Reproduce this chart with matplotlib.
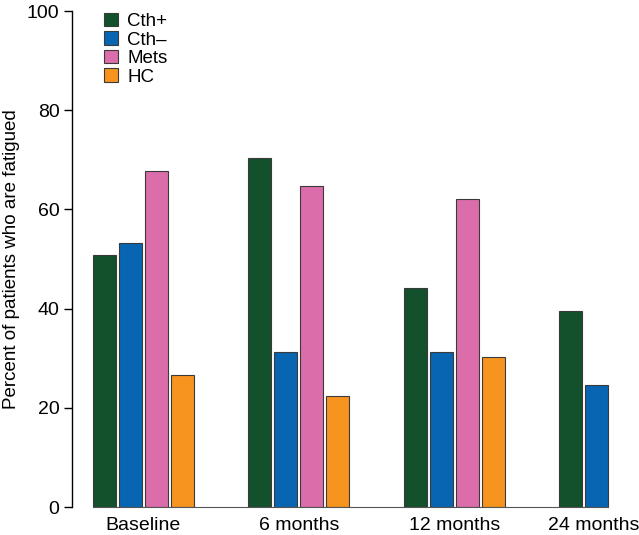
import matplotlib.pyplot as plt
import numpy as np

plt.rcParams['font.family'] = ['Liberation Sans', 'DejaVu Sans']

groups = ['Baseline', '6 months', '12 months', '24 months']
series = ['Cth+', 'Cth\u2013', 'Mets', 'HC']
cth_pos = [50.8, 70.4, 44.2, 39.5]
cth_neg = [53.3, 31.3, 31.3, 24.6]
mets = [67.7, 64.7, 62.1, np.nan]
hc = [26.6, 22.4, 30.2, np.nan]
colors = ['#12512b', '#0865b2', '#dc6dab', '#f7941f']

fig = plt.figure(figsize=(6.39, 5.35), dpi=100)
ax = fig.add_axes([0.1127, 0.0523, 0.8873, 0.9271])

x = np.arange(len(groups))
step = 0.167
w = 0.148
for j, (vals, lab, c) in enumerate(zip([cth_pos, cth_neg, mets, hc], series, colors)):
    ax.bar(x + (j - 1.5) * step, vals, width=w, color=c, edgecolor='#3a3a3a',
           linewidth=0.8, label=lab)

ax.set_xlim(-0.46, 3.19)
ax.set_ylim(0, 100)
ax.set_yticks([0, 20, 40, 60, 80, 100])
ax.set_xticks([0, 1, 2, 2.9])
ax.set_xticklabels(groups)
ax.tick_params(axis='x', length=0, labelsize=14, pad=7)
ax.tick_params(axis='y', length=6, width=1, labelsize=14, direction='out', pad=3)
ax.set_ylabel('Percent of patients who are fatigued', fontsize=13.5, labelpad=5)

for s in ['top', 'right']:
    ax.spines[s].set_visible(False)
ax.spines['left'].set_linewidth(1.0)
ax.spines['bottom'].set_color('#555555')
ax.spines['bottom'].set_bounds(-1.5 * step - w / 2, 3 - 0.5 * step + w / 2)

ax.legend(loc='upper left', bbox_to_anchor=(0.043, 1.012), frameon=False,
          fontsize=13.5, handlelength=0.75, handleheight=0.75, handletextpad=0.5,
          labelspacing=0.06, borderaxespad=0)

fig.savefig('out.png', dpi=100)
